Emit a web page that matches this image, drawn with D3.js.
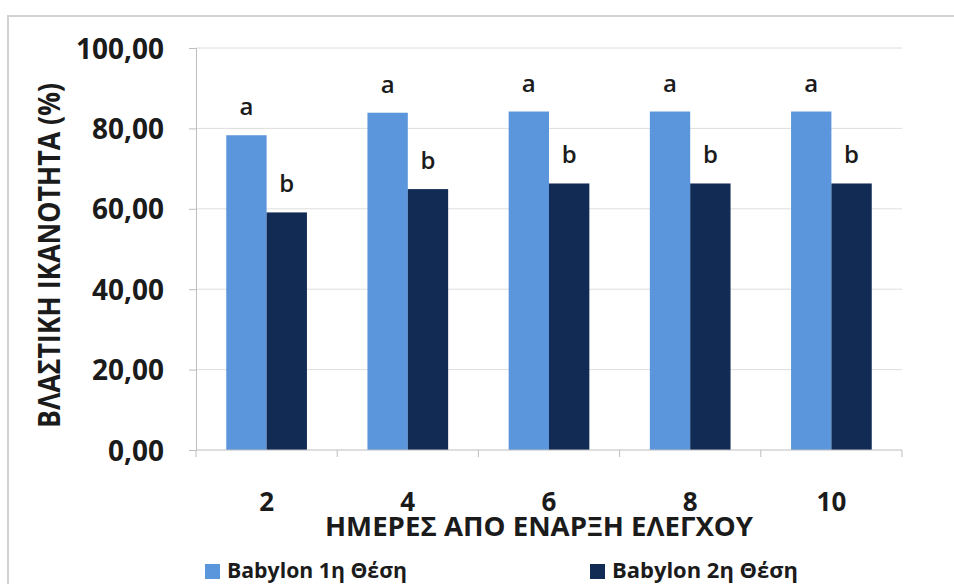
<!DOCTYPE html>
<html>
<head>
<meta charset="utf-8">
<script src="https://cdn.jsdelivr.net/npm/d3@7"></script>
<style>
  html, body { margin: 0; padding: 0; background: #fff; }
  svg { display: block; }
  text { font-family: "Open Sans", "Noto Sans", sans-serif; fill: #1b1b1b; }
</style>
</head>
<body>
<svg id="chart" width="954" height="584"></svg>
<script>
// Days since start of the test
const categories = ["2", "4", "6", "8", "10"];
// Germination capacity (%) per position
const seriesNames = ["Babylon 1η Θέση", "Babylon 2η Θέση"];
const series1 = [78.3, 83.9, 84.2, 84.2, 84.2];
const series2 = [59.1, 64.9, 66.3, 66.3, 66.3];
// Significance letters above the bars
const letters1 = ["a", "a", "a", "a", "a"];
const letters2 = ["b", "b", "b", "b", "b"];
const yTicks = [0, 20, 40, 60, 80, 100];
const yTitle = "ΒΛΑΣΤΙΚΗ ΙΚΑΝΟΤΗΤΑ (%)";
const xTitle = "ΗΜΕΡΕΣ ΑΠΟ ΕΝΑΡΞΗ ΕΛΕΓΧΟΥ";

const colors = ["#5b96dc", "#112b55"];

const svg = d3.select("#chart");
const plot = { left: 196, right: 902, top: 48, bottom: 450 };

// chart frame
svg.append("rect")
  .attr("x", 8).attr("y", 16)
  .attr("width", 1000).attr("height", 700)
  .attr("fill", "none").attr("stroke", "#d2d2d2").attr("stroke-width", 2);

const x0 = d3.scaleBand().domain(categories).range([plot.left, plot.right]).padding(0);
const x1 = d3.scaleBand().domain([0, 1]).range([0, x0.bandwidth()])
  .paddingInner(0).paddingOuter(0.75);
const y = d3.scaleLinear().domain([0, 100]).range([plot.bottom, plot.top]);

const locale = d3.formatLocale({ decimal: ",", thousands: ".", grouping: [3], currency: ["", "€"] });
const fmt = locale.format(".2f");

// gridlines
svg.append("g")
  .selectAll("line")
  .data(yTicks.filter(d => d > 0))
  .join("line")
  .attr("x1", plot.left).attr("x2", plot.right)
  .attr("y1", d => y(d)).attr("y2", d => y(d))
  .attr("stroke", "#dedede").attr("stroke-width", 1);

// y axis
const yAxis = svg.append("g")
  .attr("transform", `translate(${plot.left},0)`)
  .call(d3.axisLeft(y).tickValues(yTicks).tickFormat(fmt).tickSize(7).tickPadding(25));
yAxis.select(".domain").attr("stroke", "#bdbdbd");
yAxis.selectAll(".tick line").attr("stroke", "#bdbdbd");
yAxis.selectAll(".tick text")
  .style("font-family", '"Open Sans", sans-serif')
  .style("font-size", "28px").style("font-weight", 700)
  .attr("fill", "#1b1b1b").attr("dy", "0.36em");

// bars
const groups = svg.append("g")
  .selectAll("g")
  .data(categories)
  .join("g")
  .attr("transform", d => `translate(${x0(d)},0)`);

const barData = (c, i) => [
  { s: 0, v: series1[i], l: letters1[i] },
  { s: 1, v: series2[i], l: letters2[i] }
];

groups.selectAll("rect")
  .data((c, i) => barData(c, i))
  .join("rect")
  .attr("x", d => x1(d.s))
  .attr("width", x1.bandwidth())
  .attr("y", d => y(d.v))
  .attr("height", d => y(0) - y(d.v))
  .attr("fill", d => colors[d.s]);

groups.selectAll("text")
  .data((c, i) => barData(c, i))
  .join("text")
  .attr("x", d => x1(d.s) + x1.bandwidth() / 2)
  .attr("y", d => y(d.v) - 20)
  .attr("text-anchor", "middle")
  .style("font-size", "24px").style("font-weight", 600)
  .text(d => d.l);

// x axis line with boundary ticks
svg.append("line")
  .attr("x1", plot.left).attr("x2", plot.right)
  .attr("y1", plot.bottom).attr("y2", plot.bottom)
  .attr("stroke", "#bdbdbd");
const bounds = categories.map(c => x0(c)).concat([x0(categories[categories.length - 1]) + x0.bandwidth()]);
svg.append("g").selectAll("line")
  .data(bounds)
  .join("line")
  .attr("x1", d => d).attr("x2", d => d)
  .attr("y1", plot.bottom).attr("y2", plot.bottom + 7)
  .attr("stroke", "#bdbdbd");

// category labels
svg.append("g").selectAll("text")
  .data(categories)
  .join("text")
  .attr("x", d => x0(d) + x0.bandwidth() / 2)
  .attr("y", 511)
  .attr("text-anchor", "middle")
  .style("font-size", "26px").style("font-weight", 700)
  .text(d => d);

// axis titles
svg.append("text")
  .attr("x", (plot.left + plot.right) / 2 - 10)
  .attr("y", 536)
  .attr("text-anchor", "middle")
  .attr("textLength", 428).attr("lengthAdjust", "spacingAndGlyphs")
  .style("font-size", "27px").style("font-weight", 700)
  .text(xTitle);

svg.append("text")
  .attr("transform", "translate(60,255.5) rotate(-90)")
  .attr("text-anchor", "middle")
  .attr("textLength", 345).attr("lengthAdjust", "spacingAndGlyphs")
  .style("font-size", "30px").style("font-weight", 700)
  .text(yTitle);

// legend
const legendX = [205, 590];
const legend = svg.append("g").selectAll("g")
  .data(seriesNames)
  .join("g")
  .attr("transform", (d, i) => `translate(${legendX[i]},0)`);
legend.append("rect")
  .attr("x", 0).attr("y", 564).attr("width", 15).attr("height", 15)
  .attr("fill", (d, i) => colors[i]);
legend.append("text")
  .attr("x", 22).attr("y", 578)
  .attr("textLength", (d, i) => [180, 186][i]).attr("lengthAdjust", "spacingAndGlyphs")
  .style("font-size", "21px").style("font-weight", 700)
  .text(d => d);
</script>
</body>
</html>
